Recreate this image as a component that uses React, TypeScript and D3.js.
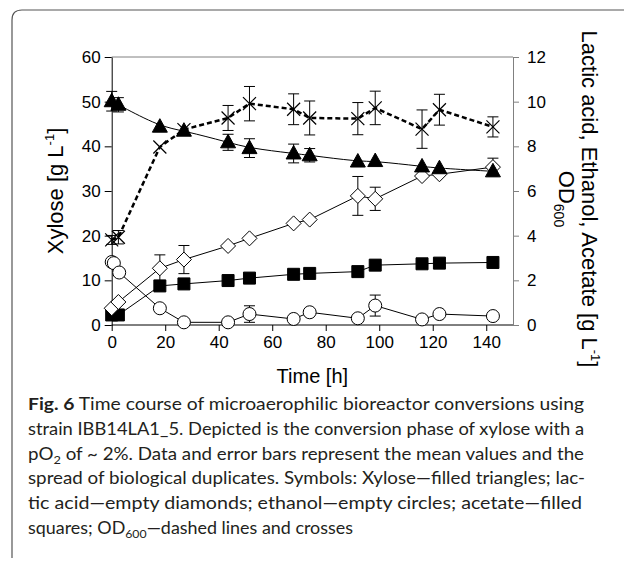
import React, { useEffect, useRef } from "react";
import { scaleLinear, line, curveBasis, select, axisLeft, axisRight, axisBottom } from "d3";

const width = 624;
const height = 565;

// Data (time in h)
const timeH = [0, 2.5, 18, 27, 43.5, 51.5, 68, 74, 92, 98.5, 116, 122.5, 142.5];
const xylose = [50.1, 49.3, 44.4, 43.5, 40.9, 39.6, 38.4, 38.0, 36.6, 36.7, 35.5, 35.1, 34.4];
const xyloseErr = [2.2, 1.6, 0, 0, 1.8, 2.1, 2.1, 1.5, 0, 0, 0, 0, 0];
const lactic = [0.75, 1.03, 2.54, 2.93, 3.54, 3.88, 4.55, 4.72, 5.78, 5.65, 6.67, 6.75, 7.07];
const lacticErr = [0, 0, 0.6, 0.63, 0, 0, 0, 0, 0.87, 0.52, 0, 0, 0.4];
const ethanolTime = [0, 0.8, 2.8, 18, 27, 43.5, 51.5, 68, 74, 92, 98.5, 116, 122.5, 142.5];
const ethanol = [2.82, 2.77, 2.35, 0.75, 0.12, 0.12, 0.49, 0.27, 0.57, 0.3, 0.87, 0.25, 0.49, 0.4];
const ethanolErr = [0, 0, 0, 0, 0, 0, 0.37, 0, 0, 0, 0.47, 0, 0, 0];
const acetate = [0.45, 0.45, 1.75, 1.84, 1.99, 2.1, 2.27, 2.31, 2.39, 2.68, 2.74, 2.77, 2.8];
const od600 = [3.81, 3.93, 7.97, 8.75, 9.27, 9.91, 9.66, 9.27, 9.24, 9.72, 8.77, 9.64, 8.87];
const od600Err = [0.2, 0.3, 0, 0, 0.56, 0.77, 0.69, 0.76, 0.72, 0.75, 0.86, 0.69, 0.45];

const xTicks = [0, 20, 40, 60, 80, 100, 120, 140];
const leftTicks = [0, 10, 20, 30, 40, 50, 60];
const rightTicks = [0, 2, 4, 6, 8, 10, 12];

const captionLines = [
  "strain IBB14LA1_5. Depicted is the conversion phase of xylose with a",
  "spread of biological duplicates. Symbols: Xylose\u2014filled triangles; lac-",
  "tic acid\u2014empty diamonds; ethanol\u2014empty circles; acetate\u2014filled",
];

const axisFont = "Liberation Sans, Arial, sans-serif";
const captionFont = "Lato, sans-serif";

const xScale = scaleLinear().domain([0, 150]).range([111.7, 513]);
const yLeft = scaleLinear().domain([0, 60]).range([325, 57]);
const yRight = scaleLinear().domain([0, 12]).range([325, 57]);

// marker shapes, centred on 0,0
const triPath = "M0,-8L7.5,5.5L-7.5,5.5Z";
const diaPath = "M0,-7.5L7.5,0L0,7.5L-7.5,0Z";
const sqPath = "M-6,-6H6V6H-6Z";
const circPath = "M6.5,0A6.5,6.5 0 1 1 -6.5,0A6.5,6.5 0 1 1 6.5,0Z";
const crossPath = "M-6.5,-6.5L6.5,6.5M6.5,-6.5L-6.5,6.5";

const ErrorBars = ({ t, v, e, y }) => (
  <g stroke="#000" strokeWidth={1}>
    {t.map((d, i) =>
      e[i] > 0 ? (
        <g key={i}>
          <line x1={xScale(d)} x2={xScale(d)} y1={y(v[i] - e[i])} y2={y(v[i] + e[i])} />
          <line x1={xScale(d) - 5.5} x2={xScale(d) + 5.5} y1={y(v[i] - e[i])} y2={y(v[i] - e[i])} />
          <line x1={xScale(d) - 5.5} x2={xScale(d) + 5.5} y1={y(v[i] + e[i])} y2={y(v[i] + e[i])} />
        </g>
      ) : null
    )}
  </g>
);

const Markers = ({ t, v, y, d, fill, stroke = "#000", sw = 1 }) => (
  <g>
    {t.map((tt, i) => (
      <path
        key={i}
        transform={`translate(${xScale(tt)},${y(v[i])})`}
        d={d}
        fill={fill}
        stroke={stroke}
        strokeWidth={sw}
      />
    ))}
  </g>
);

const Axes = () => {
  const leftRef = useRef(null);
  const rightRef = useRef(null);
  const bottomRef = useRef(null);
  useEffect(() => {
    const style = (g, color) => {
      g.selectAll("text")
        .attr("font-family", axisFont)
        .attr("font-size", 17)
        .attr("fill", "#000");
      g.select(".domain").attr("stroke", color);
      g.selectAll(".tick line").attr("stroke", color);
    };
    select(leftRef.current)
      .call(axisLeft(yLeft).tickValues(leftTicks).tickSize(7).tickSizeOuter(0).tickPadding(4))
      .call((g) => style(g, "#000"));
    select(rightRef.current)
      .call(axisRight(yRight).tickValues(rightTicks).tickSize(6).tickSizeOuter(0).tickPadding(8))
      .call((g) => style(g, "#808080"));
    select(bottomRef.current)
      .call(axisBottom(xScale).tickValues(xTicks).tickSize(6).tickSizeOuter(0).tickPadding(5))
      .call((g) => style(g, "#000"));
    select(bottomRef.current).select(".domain").attr("d", `M${xScale(0)},0H${xScale(150)}`);
  }, []);
  return (
    <g>
      <line x1={xScale(0)} x2={xScale(150)} y1={yLeft(60)} y2={yLeft(60)} stroke="#808080" />
      <g ref={rightRef} transform={`translate(${xScale(150)},0)`} />
      <g ref={bottomRef} transform={`translate(0,${yLeft(0)})`} />
      <g ref={leftRef} transform={`translate(${xScale(0)},0)`} />
    </g>
  );
};

export default function App() {
  const xyloseLine = line<number>()
    .x((d, i) => xScale(timeH[i]))
    .y((d) => yLeft(d))
    .curve(curveBasis);
  const rightLine = (t) =>
    line<number>()
      .x((d, i) => xScale(t[i]))
      .y((d) => yRight(d));

  return (
    <svg
      width={width}
      height={height}
      style={{ position: "absolute", left: 0, top: 0, background: "#fff" }}
    >
      {/* outer figure frame */}
      <path d="M12,558V20Q12,10 22,10H624" fill="none" stroke="#555" strokeWidth={1.2} />

      <Axes />

      {/* lines */}
      <path d={xyloseLine(xylose)} fill="none" stroke="#000" strokeWidth={1} />
      <path d={rightLine(ethanolTime)(ethanol)} fill="none" stroke="#000" strokeWidth={1} />
      <path d={rightLine(timeH)(lactic)} fill="none" stroke="#000" strokeWidth={1} />
      <path d={rightLine(timeH)(acetate)} fill="none" stroke="#000" strokeWidth={1} />
      <path
        d={rightLine(timeH)(od600)}
        fill="none"
        stroke="#000"
        strokeWidth={2.5}
        strokeDasharray="5 3"
      />

      {/* error bars */}
      <ErrorBars t={timeH} v={xylose} e={xyloseErr} y={yLeft} />
      <ErrorBars t={timeH} v={lactic} e={lacticErr} y={yRight} />
      <ErrorBars t={ethanolTime} v={ethanol} e={ethanolErr} y={yRight} />
      <ErrorBars t={timeH} v={od600} e={od600Err} y={yRight} />

      {/* markers */}
      <Markers t={timeH} v={acetate} y={yRight} d={sqPath} fill="#000" />
      <Markers t={ethanolTime} v={ethanol} y={yRight} d={circPath} fill="#fff" />
      <Markers t={timeH} v={lactic} y={yRight} d={diaPath} fill="#fff" />
      <Markers t={timeH} v={xylose} y={yLeft} d={triPath} fill="#000" />
      <Markers t={timeH} v={od600} y={yRight} d={crossPath} fill="none" sw={1.2} />

      {/* axis titles */}
      <text
        transform={`translate(63,${(yLeft(0) + yLeft(60)) / 2}) rotate(-90)`}
        textAnchor="middle"
        fontFamily={axisFont}
        fontSize={22}
      >
        Xylose [g L
        <tspan fontSize={13} dy={-9}>-1</tspan>
        <tspan dy={9}>]</tspan>
      </text>
      <text
        x={(xScale(0) + xScale(150)) / 2}
        y={383}
        textAnchor="middle"
        fontFamily={axisFont}
        fontSize={20}
      >
        Time [h]
      </text>
      <text
        transform="translate(582,199) rotate(90)"
        textAnchor="middle"
        fontFamily={axisFont}
        fontSize={22}
      >
        Lactic acid, Ethanol, Acetate [g L
        <tspan fontSize={13} dy={-9}>-1</tspan>
        <tspan dy={9}>]</tspan>
      </text>
      <text
        transform="translate(559,199) rotate(90)"
        textAnchor="middle"
        fontFamily={axisFont}
        fontSize={22}
      >
        OD
        <tspan fontSize={14} dy={5}>600</tspan>
      </text>

      {/* caption */}
      <g fontFamily={captionFont} fontSize={17.5} fill="#231f20">
        <text x={28} y={410} textLength={556} lengthAdjust="spacingAndGlyphs">
          <tspan fontWeight="bold">Fig. 6</tspan>
          {"  Time course of microaerophilic bioreactor conversions using"}
        </text>
        <text x={28} y={435} textLength={556} lengthAdjust="spacingAndGlyphs">
          {captionLines[0]}
        </text>
        <text x={28} y={460} textLength={556} lengthAdjust="spacingAndGlyphs">
          pO<tspan fontSize={12} dy={4}>2</tspan>
          <tspan dy={-4}>{" of ~ 2%. Data and error bars represent the mean values and the"}</tspan>
        </text>
        <text x={28} y={484} textLength={557} lengthAdjust="spacingAndGlyphs">
          {captionLines[1]}
        </text>
        <text x={28} y={509} textLength={554} lengthAdjust="spacingAndGlyphs">
          {captionLines[2]}
        </text>
        <text x={28} y={534} textLength={325} lengthAdjust="spacingAndGlyphs">
          squares; OD<tspan fontSize={12} dy={4}>600</tspan>
          <tspan dy={-4}>{"\u2014dashed lines and crosses"}</tspan>
        </text>
      </g>
    </svg>
  );
}
